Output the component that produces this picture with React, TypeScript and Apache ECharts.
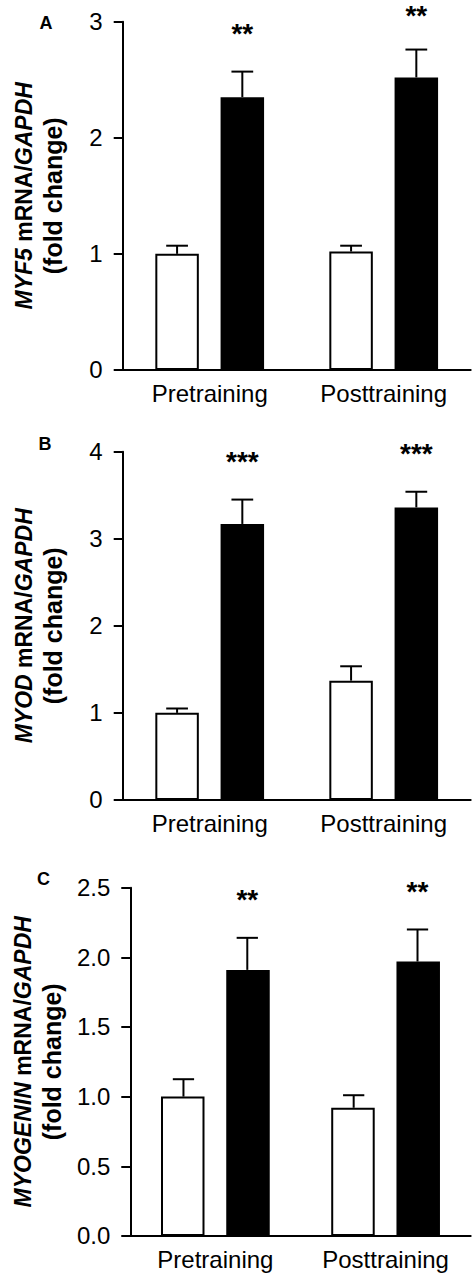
import React, { useEffect, useRef } from "react";
import * as echarts from "echarts";

const categories = ["Pretraining", "Posttraining"];

// Panel A – MYF5
const myf5Control = [1.0, 1.02];
const myf5ControlSem = [0.07, 0.05];
const myf5Trained = [2.35, 2.52];
const myf5TrainedSem = [0.22, 0.24];
const myf5Sig = ["**", "**"];
const myf5Ticks = [0, 1, 2, 3];

// Panel B – MYOD
const myodControl = [1.0, 1.37];
const myodControlSem = [0.05, 0.165];
const myodTrained = [3.17, 3.36];
const myodTrainedSem = [0.28, 0.18];
const myodSig = ["***", "***"];
const myodTicks = [0, 1, 2, 3, 4];

// Panel C – MYOGENIN
const myogControl = [1.0, 0.92];
const myogControlSem = [0.125, 0.09];
const myogTrained = [1.91, 1.97];
const myogTrainedSem = [0.23, 0.23];
const myogSig = ["**", "**"];
const myogTicks = [0, 0.5, 1.0, 1.5, 2.0, 2.5];

const FONT = "'Liberation Sans', Arial, Helvetica, sans-serif";

type Panel = {
  letter: string;
  gene: string;
  control: number[];
  controlSem: number[];
  trained: number[];
  trainedSem: number[];
  sig: string[];
  ticks: number[];
  decimals: number;
  top: number;
  letterY: number;
  letterX: number;
};

const panels: Panel[] = [
  { letter: "A", gene: "MYF5", control: myf5Control, controlSem: myf5ControlSem, trained: myf5Trained, trainedSem: myf5TrainedSem, sig: myf5Sig, ticks: myf5Ticks, decimals: 0, top: 21.7, letterX: 46, letterY: 23 },
  { letter: "B", gene: "MYOD", control: myodControl, controlSem: myodControlSem, trained: myodTrained, trainedSem: myodTrainedSem, sig: myodSig, ticks: myodTicks, decimals: 0, top: 451.7, letterX: 45, letterY: 443.5 },
  { letter: "C", gene: "MYOGENIN", control: myogControl, controlSem: myogControlSem, trained: myogTrained, trainedSem: myogTrainedSem, sig: myogSig, ticks: myogTicks, decimals: 1, top: 887.7, letterX: 43.5, letterY: 878.5 },
];

const GRID_LEFT = 122.7;
const GRID_W = 348;
const GRID_H = 348.2;

function errorSeries(gi: number, means: number[], sems: number[], side: number, sig: string[] | null) {
  return {
    type: "custom",
    xAxisIndex: gi,
    yAxisIndex: gi,
    z: 5,
    silent: true,
    data: means.map((m, i) => [i, m, sems[i]]),
    renderItem: (params: any, api: any) => {
      const ci = api.value(0);
      const m = api.value(1);
      const e = api.value(2);
      const band = api.size([1, 0])[0];
      const off = band * 0.1875 * side;
      const base = api.coord([ci, m]);
      const tip = api.coord([ci, m + e]);
      const x = base[0] + off;
      const cap = band * 0.0625;
      const children: any[] = [
        { type: "line", shape: { x1: x, y1: base[1], x2: x, y2: tip[1] }, style: { stroke: "#000", lineWidth: 2 } },
        { type: "line", shape: { x1: x - cap, y1: tip[1], x2: x + cap, y2: tip[1] }, style: { stroke: "#000", lineWidth: 2 } },
      ];
      if (sig) {
        children.push({
          type: "text",
          x: x,
          y: Math.max(1, tip[1] - 52),
          style: {
            text: sig[params.dataIndex],
            fontSize: 28,
            fontWeight: "bold",
            fontFamily: FONT,
            fill: "#000",
            align: "center",
            verticalAlign: "top",
          },
        });
      }
      return { type: "group", children };
    },
  };
}

export default function App() {
  const ref = useRef<HTMLDivElement>(null);
  useEffect(() => {
    if (!ref.current) return;
    const chart = echarts.init(ref.current, null, { renderer: "svg" });
    const grid: any[] = [];
    const xAxis: any[] = [];
    const yAxis: any[] = [];
    const series: any[] = [];
    const graphic: any[] = [];
    panels.forEach((p, gi) => {
      grid.push({ left: GRID_LEFT, top: p.top, width: GRID_W, height: GRID_H, containLabel: false });
      xAxis.push({
        type: "category",
        gridIndex: gi,
        data: categories,
        boundaryGap: true,
        axisLine: { lineStyle: { color: "#000", width: 2 } },
        axisTick: { alignWithLabel: true, length: 10, lineStyle: { color: "#000", width: 2 } },
        axisLabel: { color: "#000", fontSize: 24, fontFamily: FONT, margin: 12 },
        splitLine: { show: false },
      });
      const max = p.ticks[p.ticks.length - 1];
      const interval = p.ticks[1] - p.ticks[0];
      yAxis.push({
        type: "value",
        gridIndex: gi,
        min: 0,
        max,
        interval,
        axisLine: { show: true, lineStyle: { color: "#000", width: 2 } },
        axisTick: { show: true, length: 9, lineStyle: { color: "#000", width: 2 } },
        axisLabel: {
          color: "#000",
          fontSize: 24,
          fontFamily: FONT,
          margin: 20,
          formatter: (v: number) => v.toFixed(p.decimals),
        },
        splitLine: { show: false },
        name: `{i|${p.gene}} mRNA/{i|GAPDH}\n{c|(fold change)}`,
        nameLocation: "middle",
        nameRotate: 90,
        nameGap: 55,
        nameTextStyle: {
          fontFamily: FONT,
          fontWeight: "bold",
          fontSize: 23,
          color: "#000",
          lineHeight: 29,
          rich: {
            i: { fontFamily: FONT, fontWeight: "bold", fontStyle: "italic", fontSize: 23, color: "#000", lineHeight: 29 },
            c: { fontFamily: FONT, fontWeight: "bold", fontStyle: "normal", fontSize: 25, color: "#000", lineHeight: 29 },
          },
        },
      });
      series.push({
        type: "bar",
        xAxisIndex: gi,
        yAxisIndex: gi,
        data: p.control,
        barWidth: 43.5,
        barGap: "50%",
        itemStyle: { color: "#fff", borderColor: "#000", borderWidth: 2 },
        silent: true,
      });
      series.push({
        type: "bar",
        xAxisIndex: gi,
        yAxisIndex: gi,
        data: p.trained,
        barWidth: 43.5,
        barGap: "50%",
        itemStyle: { color: "#000", borderColor: "#000", borderWidth: 0 },
        silent: true,
      });
      series.push(errorSeries(gi, p.control, p.controlSem, -1, null));
      series.push(errorSeries(gi, p.trained, p.trainedSem, 1, p.sig));
      graphic.push({
        type: "text",
        x: p.letterX,
        y: p.letterY,
        style: {
          text: p.letter,
          fontSize: 18,
          fontWeight: "bold",
          fontFamily: FONT,
          fill: "#000",
          align: "center",
          verticalAlign: "middle",
        },
      });
    });
    chart.setOption({
      animation: false,
      backgroundColor: "#fff",
      grid,
      xAxis,
      yAxis,
      series,
      graphic,
    });
    return () => chart.dispose();
  }, []);
  return (
    <div
      ref={ref}
      style={{ position: "absolute", left: 0, top: 0, width: 475, height: 1278, background: "#fff" }}
    />
  );
}
